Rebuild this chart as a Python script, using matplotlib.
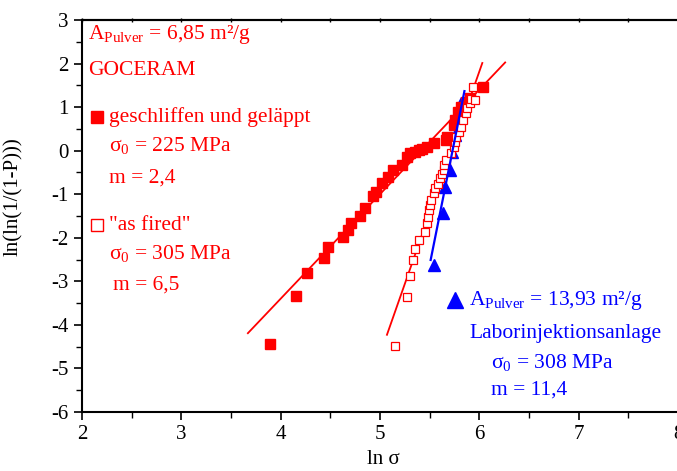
import numpy as np
import matplotlib
matplotlib.use("Agg")
import matplotlib.pyplot as plt
from matplotlib.ticker import MultipleLocator

plt.rcParams['font.family'] = ['Liberation Serif', 'DejaVu Serif']
plt.rcParams['mathtext.fontset'] = 'custom'
plt.rcParams['mathtext.rm'] = 'Liberation Serif'
plt.rcParams['mathtext.it'] = 'Liberation Serif:italic'
plt.rcParams['axes.unicode_minus'] = False

RED = '#ff0000'
BLUE = '#0000ff'

# GOCERAM, ground and lapped (filled squares)
ground_ln_sigma = [3.89, 4.15, 4.27, 4.44, 4.48, 4.63, 4.68, 4.71, 4.80, 4.85,
                   4.93, 4.96, 5.02, 5.08, 5.13, 5.22, 5.27, 5.30, 5.35, 5.39,
                   5.42, 5.47, 5.54, 5.66, 5.67, 5.74, 5.76, 5.79, 5.82, 5.87,
                   5.91, 6.04]
ground_weibull = [-4.44, -3.34, -2.82, -2.46, -2.21, -1.99, -1.82, -1.65, -1.51, -1.32,
                  -1.04, -0.96, -0.75, -0.60, -0.44, -0.33, -0.14, -0.06, -0.02, 0.02,
                  0.04, 0.09, 0.17, 0.25, 0.32, 0.59, 0.70, 0.89, 1.01, 1.12,
                  1.20, 1.46]
ground_sigma0 = 225
ground_m = 2.4
ground_fit_range = (3.67, 6.26)

# GOCERAM, as fired (open squares)
fired_ln_sigma = [5.15, 5.27, 5.30, 5.33, 5.35, 5.39, 5.45, 5.47, 5.48, 5.49,
                  5.50, 5.51, 5.54, 5.55, 5.58, 5.60, 5.62, 5.64, 5.64, 5.66,
                  5.71, 5.74, 5.76, 5.77, 5.80, 5.82, 5.84, 5.87, 5.88, 5.91,
                  5.92, 5.96, 5.94]
fired_weibull = [-4.48, -3.37, -2.87, -2.51, -2.26, -2.05, -1.86, -1.67, -1.52, -1.36,
                 -1.25, -1.13, -0.98, -0.86, -0.77, -0.63, -0.54, -0.44, -0.33, -0.21,
                 -0.06, 0.09, 0.21, 0.32, 0.44, 0.55, 0.70, 0.86, 0.97, 1.09,
                 1.18, 1.16, 1.47]
fired_sigma0 = 305
fired_m = 6.5
fired_fit_range = (5.07, 6.03)

# Laborinjektionsanlage (triangles)
lab_ln_sigma = [5.545, 5.63, 5.65, 5.70, 5.72, 5.76, 5.79, 5.82]
lab_weibull = [-2.62, -1.42, -0.84, -0.44, -0.02, 0.36, 0.75, 1.10]
lab_sigma0 = 308
lab_m = 11.4
lab_fit_range = (5.51, 5.85)


def weibull_line(sigma0, m, xr):
    x = np.array(xr)
    return x, m * (x - np.log(sigma0))


fig = plt.figure(figsize=(6.77, 4.71), dpi=100)
ax = fig.add_axes([82 / 677, 1 - 412 / 471, 596 / 677, 392 / 471])

x, y = weibull_line(ground_sigma0, ground_m, ground_fit_range)
ax.plot(x, y, color=RED, lw=1.3, zorder=2)
x, y = weibull_line(fired_sigma0, fired_m, fired_fit_range)
ax.plot(x, y, color=RED, lw=1.3, zorder=2)

ax.plot(lab_ln_sigma, lab_weibull, '^', color=BLUE, ms=8, zorder=2.5)
ax.plot(ground_ln_sigma, ground_weibull, 's', color=RED, ms=6.5, mec=RED, zorder=3)
ax.plot(fired_ln_sigma, fired_weibull, 's', mfc='white', mec=RED, mew=0.9, ms=6.3, zorder=3)
x, y = weibull_line(lab_sigma0, lab_m, lab_fit_range)
ax.plot(x, y, color=BLUE, lw=1.6, zorder=5)

ax.set_xlim(2, 8)
ax.set_ylim(-6, 3)
ax.xaxis.set_major_locator(MultipleLocator(1))
ax.xaxis.set_minor_locator(MultipleLocator(0.5))
ax.yaxis.set_major_locator(MultipleLocator(1))
ax.yaxis.set_minor_locator(MultipleLocator(0.5))
ax.tick_params(which='major', direction='out', length=6, width=1.2, labelsize=15,
               top=False, right=False)
ax.tick_params(which='minor', direction='out', length=4, width=1.0,
               top=False, right=False)
secx = ax.secondary_xaxis('top')
secx.xaxis.set_major_locator(MultipleLocator(0.5))
secx.tick_params(direction='inout', length=3, width=1.0, labeltop=False)
secx.spines['top'].set_linewidth(1.5)

for s in ['left', 'bottom', 'top']:
    ax.spines[s].set_linewidth(1.5)
ax.spines['right'].set_visible(False)

ax.set_xlabel('ln σ', fontsize=15)
ax.xaxis.set_label_coords(0.505, -0.097)
ax.set_ylabel('ln(ln(1/(1-P)))', fontsize=15)
ax.yaxis.set_label_coords(-0.098, 0.55)

fs = 15.5
txt = dict(fontsize=fs, va='center', ha='left')
ax.text(2.06, 2.66, r'A$_{\mathregular{Pulver}}$ = 6,85 m²/g', color=RED, **txt)
ax.text(2.06, 1.85, 'GOCERAM', color=RED, **txt)
ax.plot([2.15], [0.77], 's', color=RED, ms=9)
ax.text(2.27, 0.77, 'geschliffen und geläppt', color=RED, **txt)
ax.text(2.27, 0.13, r'σ$_{\mathregular{0}}$ = 225 MPa', color=RED, **txt)
ax.text(2.27, -0.63, 'm = 2,4', color=RED, **txt)
ax.plot([2.15], [-1.71], 's', mfc='white', mec=RED, mew=1.0, ms=9)
ax.text(2.27, -1.71, '"as fired"', color=RED, **txt)
ax.text(2.27, -2.35, r'σ$_{\mathregular{0}}$ = 305 MPa', color=RED, **txt)
ax.text(2.31, -3.08, 'm = 6,5', color=RED, **txt)

ax.plot([5.76], [-3.43], '^', color=BLUE, ms=11)
ax.text(5.90, -3.43, r'A$_{\mathregular{Pulver}}$ = 13,93 m²/g', color=BLUE, **txt)
ax.text(5.90, -4.19, 'Laborinjektionsanlage', color=BLUE, **txt)
ax.text(6.12, -4.87, r'σ$_{\mathregular{0}}$ = 308 MPa', color=BLUE, **txt)
ax.text(6.12, -5.49, 'm = 11,4', color=BLUE, **txt)

fig.savefig('out.png', dpi=100)
